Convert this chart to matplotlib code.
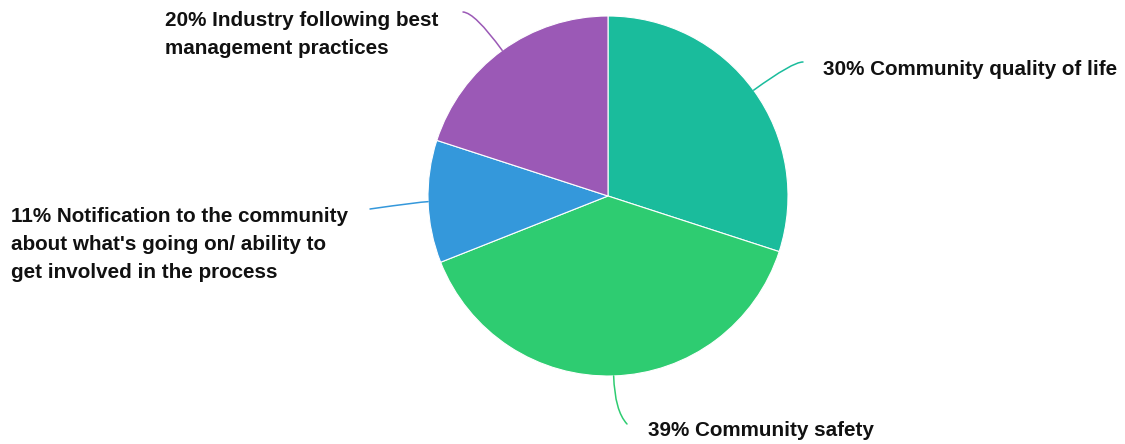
import numpy as np
import matplotlib.pyplot as plt
from matplotlib.path import Path
from matplotlib.patches import PathPatch

categories = [
    "Community quality of life",
    "Community safety",
    "Notification to the community\nabout what's going on/ ability to\nget involved in the process",
    "Industry following best\nmanagement practices",
]
shares = [30, 39, 11, 20]
colors = ["#1abc9c", "#2ecc71", "#3498db", "#9b59b6"]

W, H = 1125, 444
cx, cy, R = 608, 196, 180

# connector end points, how far each one bows outward, and top-left corner
# of each label (pixel coords, y down)
line_ends = [(803, 62), (627, 424), (370, 209), (463, 12)]
bends = [0.85, 0.7, 0.15, 0.85]
label_pos = [(823, 60), (648, 421), (11, 206.5), (165, 11)]

plt.rcParams['font.family'] = ['Liberation Sans', 'DejaVu Sans']

fig = plt.figure(figsize=(W / 100, H / 100), dpi=100)
ax = fig.add_axes([0, 0, 1, 1])

# y axis is flipped below, so counterclockwise in data runs clockwise on screen
wedges, _ = ax.pie(shares, colors=colors, startangle=-90, counterclock=True,
                   center=(cx, cy), radius=R, frame=False,
                   wedgeprops=dict(edgecolor='white', linewidth=0.8))
ax.set_xlim(0, W)
ax.set_ylim(H, 0)
ax.axis('off')

for w, share, name, end, k, pos, c in zip(wedges, shares, categories, line_ends,
                                          bends, label_pos, colors):
    mid = np.deg2rad((w.theta1 + w.theta2) / 2)
    d = np.array([np.cos(mid), np.sin(mid)])
    start = np.array([cx, cy]) + R * d
    dist = np.hypot(*(np.array(end) - start))
    ctrl = start + d * k * dist
    path = Path([start, ctrl, end], [Path.MOVETO, Path.CURVE3, Path.CURVE3])
    ax.add_patch(PathPatch(path, fill=False, edgecolor=c, lw=1.1, capstyle='round'))
    ax.text(pos[0], pos[1], f"{share}% {name}", ha='left', va='top',
            fontsize=14.9, fontweight='bold', color='#111111', linespacing=1.6)

fig.savefig('out.png', dpi=100)
